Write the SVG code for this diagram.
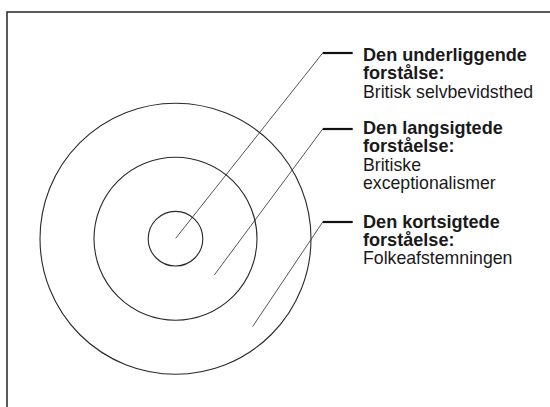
<svg xmlns="http://www.w3.org/2000/svg" width="550" height="407" viewBox="0 0 550 407">
<style>
.ring{fill:none;stroke:#2a2a2a;stroke-width:1.1}
.lead{fill:none;stroke:#2a2a2a;stroke-width:0.8}
.tick{fill:none;stroke:#111;stroke-width:2.2}
.b{font-family:"Liberation Sans",Arial,sans-serif;font-size:18.1px;font-weight:bold;fill:#1a1a1a}
.r{font-family:"Liberation Sans",Arial,sans-serif;font-size:17.7px;fill:#1a1a1a}
</style>
<defs>
<linearGradient id="g" x1="0" y1="103" x2="0" y2="374" gradientUnits="userSpaceOnUse">
<stop offset="0" stop-color="#ffffff"/>
<stop offset="0.45" stop-color="#ffffff"/>
<stop offset="1" stop-color="#e3e4e6"/>
</linearGradient>
</defs>
<rect x="0" y="0" width="550" height="407" fill="#ffffff"/>
<rect x="7" y="12" width="560" height="420" fill="none" stroke="#333" stroke-width="1.6"/>
<g id="outer"><circle cx="175.5" cy="238.7" r="135.5" fill="url(#g)" class="ring"/></g>
<g id="middle"><circle cx="175.5" cy="238.7" r="81.5" class="ring"/></g>
<g id="inner"><circle cx="175.5" cy="238.7" r="27.3" class="ring"/></g>
<g id="connectors">
<polyline class="lead" points="175.7,238.3 322.7,53"/>
<line class="tick" x1="322.7" y1="53" x2="352.7" y2="53"/>
<polyline class="lead" points="214.3,275 322.7,129"/>
<line class="tick" x1="322.7" y1="129" x2="352.7" y2="129"/>
<polyline class="lead" points="252.6,326.6 322.7,222"/>
<line class="tick" x1="322.7" y1="222" x2="352.7" y2="222"/>
</g>
<g id="label1">
<text class="b" x="363" y="60.8">Den underliggende</text>
<text class="b" x="363" y="79.3">forstålse:</text>
<text class="r" x="363" y="97.5">Britisk selvbevidsthed</text>
</g>
<g id="label2">
<text class="b" x="363" y="134">Den langsigtede</text>
<text class="b" x="363" y="152.3">forståelse:</text>
<text class="r" x="363" y="171">Britiske</text>
<text class="r" x="363" y="189.3">exceptionalismer</text>
</g>
<g id="label3">
<text class="b" x="363" y="227.7">Den kortsigtede</text>
<text class="b" x="363" y="246">forståelse:</text>
<text class="r" x="363" y="264.3">Folkeafstemningen</text>
</g>
</svg>
